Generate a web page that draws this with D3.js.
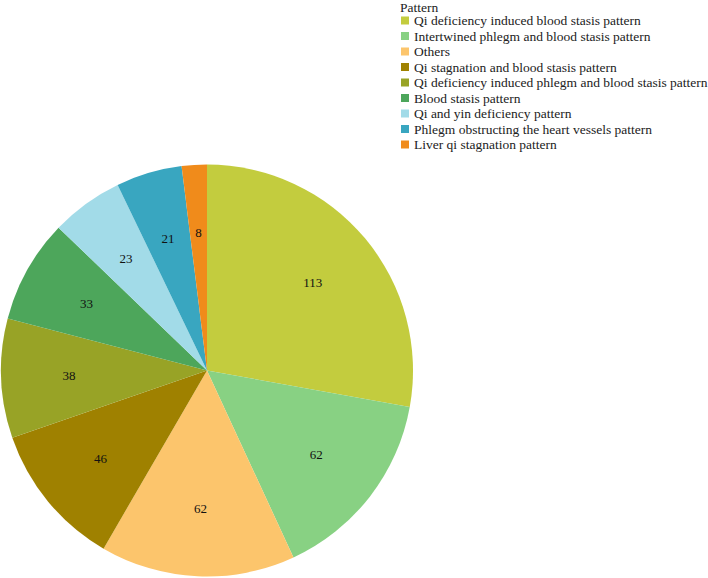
<!DOCTYPE html>
<html>
<head>
<meta charset="utf-8">
<script src="https://cdn.jsdelivr.net/npm/d3@7"></script>
<style>
  html, body { margin: 0; padding: 0; background: #fff; }
  svg { display: block; }
</style>
</head>
<body>
<svg id="chart" width="708" height="578"></svg>
<script>
const categories = [
  "Qi deficiency induced blood stasis pattern",
  "Intertwined phlegm and blood stasis pattern",
  "Others",
  "Qi stagnation and blood stasis pattern",
  "Qi deficiency induced phlegm and blood stasis pattern",
  "Blood stasis pattern",
  "Qi and yin deficiency pattern",
  "Phlegm obstructing the heart vessels pattern",
  "Liver qi stagnation pattern"
];
const values = [113, 62, 62, 46, 38, 33, 23, 21, 8];
const colors = ["#c3cc3e", "#88d183", "#fcc56c", "#9f8100", "#98a326", "#4da65b", "#a2dbe8", "#39a6c0", "#f08b1b"];
const legendTitle = "Pattern";

const FONT = '"Liberation Serif", serif';
const svg = d3.select("#chart");
const cx = 207, cy = 370.5, r = 206, labelR = 138;

const color = d3.scaleOrdinal().domain(categories).range(colors);
const data = categories.map((c, i) => ({ cat: c, value: values[i] }));
const pie = d3.pie().value(d => d.value).sort(null);
const arcs = pie(data);
const arc = d3.arc().innerRadius(0).outerRadius(r);
const labelArc = d3.arc().innerRadius(labelR).outerRadius(labelR);

const g = svg.append("g").attr("transform", `translate(${cx},${cy})`);
g.selectAll("path").data(arcs).join("path")
  .attr("d", arc)
  .attr("fill", d => color(d.data.cat));

g.selectAll("text").data(arcs).join("text")
  .attr("transform", d => `translate(${labelArc.centroid(d)})`)
  .attr("text-anchor", "middle")
  .attr("dy", "0.35em")
  .style("font-family", FONT)
  .style("font-size", "13px")
  .attr("fill", "#111")
  .text(d => d.data.value);

const lg = svg.append("g").attr("transform", "translate(400,0)");
lg.append("text").attr("x", 0).attr("y", 11.5).style("font-family", FONT).style("font-size", "13.5px").attr("fill", "#222").text(legendTitle);
const y = d3.scalePoint().domain(categories).range([20.5, 144.5]);
const items = lg.selectAll("g.item").data(categories).join("g")
  .attr("class", "item")
  .attr("transform", d => `translate(0,${y(d)})`);
items.append("rect").attr("x", 1).attr("y", -4).attr("width", 8).attr("height", 8).attr("fill", d => color(d));
items.append("text").attr("x", 14).attr("y", 0).attr("dy", "0.35em").style("font-family", FONT).style("font-size", "13.5px").attr("fill", "#222").text(d => d);
</script>
</body>
</html>
